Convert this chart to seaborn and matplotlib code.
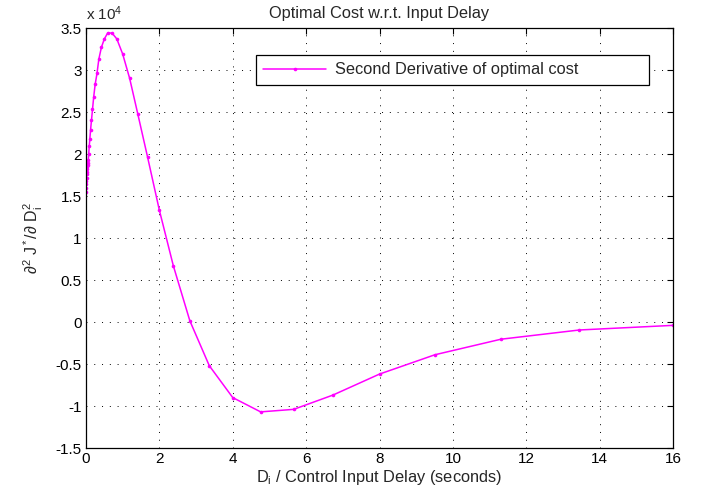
import numpy as np
import pandas as pd
import matplotlib
matplotlib.use("Agg")
import matplotlib.pyplot as plt
import seaborn as sns
from matplotlib.ticker import FuncFormatter

# Data (second derivative in units of 1e4)
delay = [0.0, 0.0039, 0.0078, 0.011, 0.0156, 0.022, 0.026, 0.031, 0.037, 0.044,
         0.053, 0.0625, 0.074, 0.088, 0.105, 0.125, 0.149, 0.177, 0.21, 0.25,
         0.30, 0.35, 0.42, 0.50, 0.59, 0.71, 0.84, 1.0, 1.19, 1.41,
         1.68, 2.0, 2.38, 2.83, 3.36, 4.0, 4.76, 5.66, 6.73, 8.0,
         9.51, 11.31, 13.45, 16.0]
second_deriv = [1.55, 1.60, 1.64, 1.68, 1.72, 1.76, 1.79, 1.82, 1.85, 1.87,
                1.89, 1.93, 2.00, 2.09, 2.18, 2.29, 2.40, 2.53, 2.68, 2.83,
                2.96, 3.13, 3.27, 3.37, 3.44, 3.44, 3.37, 3.19, 2.90, 2.48,
                1.96, 1.33, 0.67, 0.015, -0.52, -0.90, -1.07, -1.04, -0.87, -0.62,
                -0.39, -0.205, -0.095, -0.04]
xticks = [0, 2, 4, 6, 8, 10, 12, 14, 16]
yticks = [-1.5, -1, -0.5, 0, 0.5, 1, 1.5, 2, 2.5, 3, 3.5]

sns.set_theme(style="white")
plt.rcParams['font.family'] = ['Liberation Sans', 'DejaVu Sans']
plt.rcParams['mathtext.fontset'] = 'custom'
plt.rcParams['mathtext.rm'] = 'Liberation Sans'
plt.rcParams['mathtext.it'] = 'Liberation Sans'
plt.rcParams['mathtext.default'] = 'regular'

df = pd.DataFrame({"delay": delay, "val": second_deriv})

fig = plt.figure(figsize=(7.06, 5.0), dpi=100)
ax = fig.add_axes([86/706, 1-448/500, (673-86)/706, (448-28)/500])

sns.lineplot(data=df, x="delay", y="val", sort=False, ax=ax, color="#FF00FF",
             linewidth=1.1, marker="o", markersize=2.6, markeredgewidth=0,
             label="Second Derivative of optimal cost")

ax.set_xlim(0, 16)
ax.set_ylim(-1.5, 3.5)
ax.set_xticks(xticks)
ax.set_yticks(yticks)
ax.yaxis.set_major_formatter(FuncFormatter(lambda v, p: "%g" % v))
ax.tick_params(direction="in", top=True, right=True, length=4, width=0.8,
               labelsize=11, colors="black", pad=3)
ax.grid(True, color="black", linestyle=(0, (1, 7)), linewidth=0.7)
for s in ax.spines.values():
    s.set_color("black")
    s.set_linewidth(0.9)

ax.set_title("Optimal Cost w.r.t. Input Delay", fontsize=11.8, pad=7)
ax.set_xlabel(r"D$_i$ / Control Input Delay (seconds)", fontsize=11.8, labelpad=1)
ax.set_ylabel(r"$\partial^2\ J^*/\partial\ D_i^2$", fontsize=11.5, labelpad=8)
ax.text(0.0, 1.012, r"x 10$^4$", transform=ax.transAxes, fontsize=11,
        ha="left", va="bottom")

leg = ax.legend(loc="upper left",
                bbox_to_anchor=(256/706, 1-55/500, (649-256)/706, 0.0),
                bbox_transform=fig.transFigure, mode="expand",
                fontsize=11.8, frameon=True,
                fancybox=False, framealpha=1, edgecolor="black",
                borderpad=0.45, borderaxespad=0.0,
                handlelength=3.8, handletextpad=0.55)
leg.get_frame().set_linewidth(0.9)

fig.savefig("out.png", dpi=100)
